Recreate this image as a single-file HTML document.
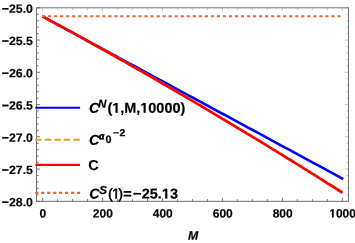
<!DOCTYPE html><html><head><meta charset="utf-8"><style>html,body{margin:0;padding:0;background:#fff;}svg{display:block;will-change:transform;text-rendering:geometricPrecision;font-family:"Liberation Sans",sans-serif;font-weight:bold;fill:#000}</style></head><body>
<svg width="355" height="243" viewBox="0 0 355 243">
<rect width="355" height="243" fill="#fff"/>
<path d="M42.50,16.45 L47.51,19.16 L52.53,21.87 L57.54,24.58 L62.55,27.29 L67.57,30.00 L72.58,32.71 L77.59,35.42 L82.61,38.13 L87.62,40.84 L92.63,43.55 L97.65,46.26 L102.66,48.97 L107.67,51.68 L112.69,54.39 L117.70,57.10 L122.71,59.81 L127.73,62.52 L132.74,65.22 L137.75,67.93 L142.77,70.64 L147.78,73.35 L152.79,76.06 L157.81,78.77 L162.82,81.48 L167.83,84.19 L172.85,86.90 L177.86,89.61 L182.87,92.32 L187.89,95.03 L192.90,97.74 L197.91,100.45 L202.93,103.16 L207.94,105.87 L212.95,108.58 L217.97,111.29 L222.98,114.00 L227.99,116.71 L233.01,119.42 L238.02,122.13 L243.03,124.84 L248.05,127.55 L253.06,130.26 L258.07,132.97 L263.09,135.68 L268.10,138.39 L273.11,141.10 L278.13,143.81 L283.14,146.52 L288.15,149.23 L293.17,151.94 L298.18,154.65 L303.19,157.35 L308.21,160.06 L313.22,162.77 L318.23,165.48 L323.25,168.19 L328.26,170.90 L333.27,173.61 L338.29,176.32 L343.30,179.03" fill="none" stroke="#0000ff" stroke-width="2.6"/>
<path d="M42.50,16.35 L47.50,19.06 L52.50,21.77 L57.50,24.49 L62.50,27.22 L67.50,29.96 L72.50,32.70 L77.50,35.45 L82.50,38.21 L87.50,40.98 L92.50,43.76 L97.50,46.54 L102.50,49.33 L107.50,52.12 L112.50,54.93 L117.50,57.74 L122.50,60.56 L127.50,63.39 L132.50,66.23 L137.50,69.07 L142.50,71.92 L147.50,74.78 L152.50,77.64 L157.50,80.52 L162.50,83.40 L167.50,86.29 L172.50,89.18 L177.50,92.09 L182.50,95.00 L187.50,97.92 L192.50,100.85 L197.50,103.78 L202.50,106.72 L207.50,109.67 L212.50,112.63 L217.50,115.59 L222.50,118.56 L227.50,121.54 L232.50,124.53 L237.50,127.53 L242.50,130.53 L247.50,133.54 L252.50,136.56 L257.50,139.58 L262.50,142.62 L267.50,145.66 L272.50,148.71 L277.50,151.76 L282.50,154.83 L287.50,157.90 L292.50,160.97 L297.50,164.06 L302.50,167.16 L307.50,170.26 L312.50,173.37 L317.50,176.48 L322.50,179.61 L327.50,182.74 L332.50,185.88 L337.50,189.03 L342.50,192.18" fill="none" stroke="#E09C24" stroke-width="2.6" stroke-dasharray="6.3 3.2"/>
<path d="M42.50,16.35 L47.50,19.06 L52.50,21.77 L57.50,24.49 L62.50,27.22 L67.50,29.96 L72.50,32.71 L77.50,35.46 L82.50,38.22 L87.50,40.99 L92.50,43.77 L97.50,46.56 L102.50,49.35 L107.50,52.15 L112.50,54.96 L117.50,57.78 L122.50,60.61 L127.50,63.44 L132.50,66.28 L137.50,69.13 L142.50,71.99 L147.50,74.86 L152.50,77.73 L157.50,80.61 L162.50,83.50 L167.50,86.40 L172.50,89.30 L177.50,92.22 L182.50,95.14 L187.50,98.07 L192.50,101.00 L197.50,103.95 L202.50,106.90 L207.50,109.86 L212.50,112.83 L217.50,115.81 L222.50,118.79 L227.50,121.78 L232.50,124.78 L237.50,127.79 L242.50,130.81 L247.50,133.83 L252.50,136.87 L257.50,139.91 L262.50,142.96 L267.50,146.01 L272.50,149.08 L277.50,152.15 L282.50,155.23 L287.50,158.32 L292.50,161.41 L297.50,164.52 L302.50,167.63 L307.50,170.75 L312.50,173.88 L317.50,177.01 L322.50,180.16 L327.50,183.31 L332.50,186.47 L337.50,189.63 L342.50,192.81" fill="none" stroke="#ff0000" stroke-width="2.6"/>
<path d="M41.95,16.25 H340.9" fill="none" stroke="#EB6235" stroke-width="2.1" stroke-dasharray="3.2 2.83"/>
<rect x="36.5" y="7.8" width="312.0" height="193.5" fill="none" stroke="#707070" stroke-width="1"/>
<path d="M36.5,7.80 h3.6 M36.5,14.25 h2.2 M36.5,20.70 h2.2 M36.5,27.15 h2.2 M36.5,33.60 h2.2 M36.5,40.05 h3.6 M36.5,46.50 h2.2 M36.5,52.95 h2.2 M36.5,59.40 h2.2 M36.5,65.85 h2.2 M36.5,72.30 h3.6 M36.5,78.75 h2.2 M36.5,85.20 h2.2 M36.5,91.65 h2.2 M36.5,98.10 h2.2 M36.5,104.55 h3.6 M36.5,111.00 h2.2 M36.5,117.45 h2.2 M36.5,123.90 h2.2 M36.5,130.35 h2.2 M36.5,136.80 h3.6 M36.5,143.25 h2.2 M36.5,149.70 h2.2 M36.5,156.15 h2.2 M36.5,162.60 h2.2 M36.5,169.05 h3.6 M36.5,175.50 h2.2 M36.5,181.95 h2.2 M36.5,188.40 h2.2 M36.5,194.85 h2.2 M36.5,201.30 h3.6 M42.60,201.3 v-3.6 M57.59,201.3 v-2.2 M72.57,201.3 v-2.2 M87.56,201.3 v-2.2 M102.54,201.3 v-3.6 M117.53,201.3 v-2.2 M132.51,201.3 v-2.2 M147.50,201.3 v-2.2 M162.48,201.3 v-3.6 M177.47,201.3 v-2.2 M192.45,201.3 v-2.2 M207.44,201.3 v-2.2 M222.42,201.3 v-3.6 M237.41,201.3 v-2.2 M252.39,201.3 v-2.2 M267.38,201.3 v-2.2 M282.36,201.3 v-3.6 M297.35,201.3 v-2.2 M312.33,201.3 v-2.2 M327.31,201.3 v-2.2 M342.30,201.3 v-3.6" fill="none" stroke="#666" stroke-width="0.9"/>
<path d="M348.5,7.80 h-3.6 M348.5,14.25 h-2.2 M348.5,20.70 h-2.2 M348.5,27.15 h-2.2 M348.5,33.60 h-2.2 M348.5,40.05 h-3.6 M348.5,46.50 h-2.2 M348.5,52.95 h-2.2 M348.5,59.40 h-2.2 M348.5,65.85 h-2.2 M348.5,72.30 h-3.6 M348.5,78.75 h-2.2 M348.5,85.20 h-2.2 M348.5,91.65 h-2.2 M348.5,98.10 h-2.2 M348.5,104.55 h-3.6 M348.5,111.00 h-2.2 M348.5,117.45 h-2.2 M348.5,123.90 h-2.2 M348.5,130.35 h-2.2 M348.5,136.80 h-3.6 M348.5,143.25 h-2.2 M348.5,149.70 h-2.2 M348.5,156.15 h-2.2 M348.5,162.60 h-2.2 M348.5,169.05 h-3.6 M348.5,175.50 h-2.2 M348.5,181.95 h-2.2 M348.5,188.40 h-2.2 M348.5,194.85 h-2.2 M348.5,201.30 h-3.6 M42.60,7.8 v3.6 M57.59,7.8 v2.2 M72.57,7.8 v2.2 M87.56,7.8 v2.2 M102.54,7.8 v3.6 M117.53,7.8 v2.2 M132.51,7.8 v2.2 M147.50,7.8 v2.2 M162.48,7.8 v3.6 M177.47,7.8 v2.2 M192.45,7.8 v2.2 M207.44,7.8 v2.2 M222.42,7.8 v3.6 M237.41,7.8 v2.2 M252.39,7.8 v2.2 M267.38,7.8 v2.2 M282.36,7.8 v3.6 M297.35,7.8 v2.2 M312.33,7.8 v2.2 M327.31,7.8 v2.2 M342.30,7.8 v3.6" fill="none" stroke="#888" stroke-width="0.5"/>
<text transform="translate(33.00,12.75) scale(1.03,1) rotate(0.03)" font-size="12" text-anchor="end" stroke="#000" stroke-width="0.15" stroke-linejoin="round">−25.0</text>
<text transform="translate(33.00,45.00) scale(1.03,1) rotate(0.03)" font-size="12" text-anchor="end" stroke="#000" stroke-width="0.15" stroke-linejoin="round">−25.5</text>
<text transform="translate(33.00,77.25) scale(1.03,1) rotate(0.03)" font-size="12" text-anchor="end" stroke="#000" stroke-width="0.15" stroke-linejoin="round">−26.0</text>
<text transform="translate(33.00,109.50) scale(1.03,1) rotate(0.03)" font-size="12" text-anchor="end" stroke="#000" stroke-width="0.15" stroke-linejoin="round">−26.5</text>
<text transform="translate(33.00,141.75) scale(1.03,1) rotate(0.03)" font-size="12" text-anchor="end" stroke="#000" stroke-width="0.15" stroke-linejoin="round">−27.0</text>
<text transform="translate(33.00,174.00) scale(1.03,1) rotate(0.03)" font-size="12" text-anchor="end" stroke="#000" stroke-width="0.15" stroke-linejoin="round">−27.5</text>
<text transform="translate(33.00,206.25) scale(1.03,1) rotate(0.03)" font-size="12" text-anchor="end" stroke="#000" stroke-width="0.15" stroke-linejoin="round">−28.0</text>
<text transform="translate(42.90,217.60) scale(1.0,1) rotate(0.03)" font-size="12" text-anchor="middle" stroke="#000" stroke-width="0.15" stroke-linejoin="round">0</text>
<text transform="translate(102.84,217.60) scale(1.0,1) rotate(0.03)" font-size="12" text-anchor="middle" stroke="#000" stroke-width="0.15" stroke-linejoin="round">200</text>
<text transform="translate(162.78,217.60) scale(1.0,1) rotate(0.03)" font-size="12" text-anchor="middle" stroke="#000" stroke-width="0.15" stroke-linejoin="round">400</text>
<text transform="translate(222.72,217.60) scale(1.0,1) rotate(0.03)" font-size="12" text-anchor="middle" stroke="#000" stroke-width="0.15" stroke-linejoin="round">600</text>
<text transform="translate(282.66,217.60) scale(1.0,1) rotate(0.03)" font-size="12" text-anchor="middle" stroke="#000" stroke-width="0.15" stroke-linejoin="round">800</text>
<path transform="translate(329.26,217.60) scale(0.005859,-0.005859)" d="M478 0V1170L140 959V1180L493 1409H759V0Z" fill="#000" stroke="#000" stroke-width="25.6" stroke-linejoin="round"/>
<text transform="translate(335.93,217.60) scale(1.0,1) rotate(0.03)" font-size="12" text-anchor="start" stroke="#000" stroke-width="0.15" stroke-linejoin="round">000</text>
<text transform="translate(193.00,239.80) scale(1.0,1) rotate(0.03)" font-size="12.3" text-anchor="middle" font-style="italic" stroke="#000" stroke-width="0.2" stroke-linejoin="round">M</text>
<path d="M35.4,107.7 H80.1" stroke="#0000ff" stroke-width="2.1" fill="none"/>
<path d="M35.3,139.8 H80.2" stroke="#E09C24" stroke-width="2.1" fill="none" stroke-dasharray="6.3 3.25"/>
<path d="M35.4,164.9 H80.1" stroke="#ff0000" stroke-width="2.1" fill="none"/>
<path d="M35.3,192.9 H80.1" stroke="#EB6235" stroke-width="2.1" fill="none" stroke-dasharray="3.1 2.86"/>
<text transform="translate(88.90,112.80) scale(1.01,1) rotate(0.03)" font-size="14.3" text-anchor="start" font-style="italic" stroke="#000" stroke-width="0.2" stroke-linejoin="round">C</text>
<text transform="translate(98.00,107.80) scale(1.01,1) rotate(0.03)" font-size="11.5" text-anchor="start" font-style="italic" stroke="#000" stroke-width="0.2" stroke-linejoin="round">N</text>
<text transform="translate(107.40,112.80) scale(1.01,1) rotate(0.03)" font-size="14.3" text-anchor="start" stroke="#000" stroke-width="0.2" stroke-linejoin="round">(</text>
<path transform="translate(112.21,112.80) scale(0.007052,-0.006982)" d="M478 0V1170L140 959V1180L493 1409H759V0Z" fill="#000" stroke="#000" stroke-width="28.6" stroke-linejoin="round"/>
<text transform="translate(120.24,112.80) scale(1.01,1) rotate(0.03)" font-size="14.3" text-anchor="start" stroke="#000" stroke-width="0.2" stroke-linejoin="round">,M,</text>
<path transform="translate(140.30,112.80) scale(0.007052,-0.006982)" d="M478 0V1170L140 959V1180L493 1409H759V0Z" fill="#000" stroke="#000" stroke-width="28.6" stroke-linejoin="round"/>
<text transform="translate(148.33,112.80) scale(1.01,1) rotate(0.03)" font-size="14.3" text-anchor="start" stroke="#000" stroke-width="0.2" stroke-linejoin="round">0000)</text>
<text transform="translate(88.90,144.80) scale(1.01,1) rotate(0.03)" font-size="14.3" text-anchor="start" font-style="italic" stroke="#000" stroke-width="0.2" stroke-linejoin="round">C</text>
<text transform="translate(99.10,139.30) scale(1.05,1) rotate(0.03)" font-size="10.4" text-anchor="start" font-style="italic" font-family="Liberation Serif" stroke="#000" stroke-width="0.6" stroke-linejoin="round">a</text>
<text transform="translate(105.50,143.00) scale(1.0,1) rotate(0.03)" font-size="10.8" text-anchor="start" stroke="#000" stroke-width="0.2" stroke-linejoin="round">0</text>
<text transform="translate(112.90,136.20) scale(1.0,1) rotate(0.03)" font-size="10.4" text-anchor="start" stroke="#000" stroke-width="0.2" stroke-linejoin="round">−</text>
<text transform="translate(119.60,136.20) scale(1.0,1) rotate(0.03)" font-size="10.4" text-anchor="start" stroke="#000" stroke-width="0.2" stroke-linejoin="round">2</text>
<text transform="translate(88.30,170.00) scale(1.01,1) rotate(0.03)" font-size="14.3" text-anchor="start" stroke="#000" stroke-width="0.2" stroke-linejoin="round">C</text>
<text transform="translate(89.20,198.60) scale(1.01,1) rotate(0.03)" font-size="14.3" text-anchor="start" font-style="italic" stroke="#000" stroke-width="0.2" stroke-linejoin="round">C</text>
<text transform="translate(99.20,193.90) scale(1.01,1) rotate(0.03)" font-size="11.5" text-anchor="start" font-style="italic" stroke="#000" stroke-width="0.2" stroke-linejoin="round">S</text>
<text transform="translate(108.00,198.60) scale(1.01,1) rotate(0.03)" font-size="14.3" text-anchor="start" font-weight="normal" stroke="#000" stroke-width="0.5" stroke-linejoin="round">(</text>
<path transform="translate(111.90,198.60) scale(0.007052,-0.006982)" d="M515 0V1237L197 1010V1180L530 1409H696V0Z" fill="#000" stroke="#000" stroke-width="71.6" stroke-linejoin="round"/>
<text transform="translate(118.30,198.60) scale(1.01,1) rotate(0.03)" font-size="14.3" text-anchor="start" font-weight="normal" stroke="#000" stroke-width="0.5" stroke-linejoin="round">)</text>
<text transform="translate(123.20,198.60) scale(1.01,1) rotate(0.03)" font-size="14.3" text-anchor="start" stroke="#000" stroke-width="0.2" stroke-linejoin="round">=</text>
<text transform="translate(133.10,198.60) scale(1.01,1) rotate(0.03)" font-size="14.3" text-anchor="start" stroke="#000" stroke-width="0.2" stroke-linejoin="round">−</text>
<text transform="translate(141.80,198.60) scale(1.01,1) rotate(0.03)" font-size="14.3" text-anchor="start" stroke="#000" stroke-width="0.2" stroke-linejoin="round">25.</text>
<path transform="translate(161.88,198.60) scale(0.007052,-0.006982)" d="M478 0V1170L140 959V1180L493 1409H759V0Z" fill="#000" stroke="#000" stroke-width="28.6" stroke-linejoin="round"/>
<text transform="translate(169.91,198.60) scale(1.01,1) rotate(0.03)" font-size="14.3" text-anchor="start" stroke="#000" stroke-width="0.2" stroke-linejoin="round">3</text>
</svg></body></html>
